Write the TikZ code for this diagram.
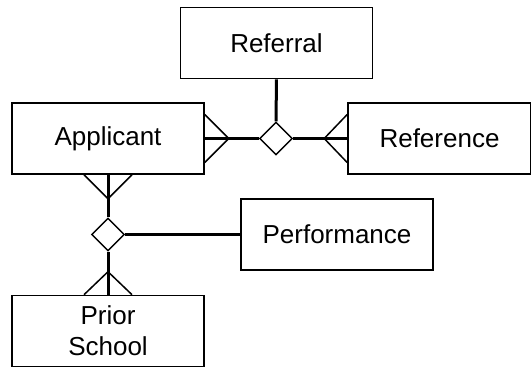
\documentclass[tikz,border=0pt]{standalone}
\usepackage{fontspec}
\setmainfont{Liberation Sans}
\usetikzlibrary{shapes.geometric}
\begin{document}
\begin{tikzpicture}[x=1pt,y=-1pt,
  ent/.style={draw, line width=1.6pt, fill=white, minimum width=192pt, minimum height=71pt, inner sep=0pt, font=\fontsize{26}{31}\selectfont, align=center},
  rel/.style={draw, diamond, line width=1.4pt, fill=white, minimum width=33pt, minimum height=33pt, inner sep=0pt},
  conn/.style={line width=3pt},
  prong/.style={line width=1.5pt}]
\useasboundingbox (0,0) rectangle (531,368);
\node[ent] (referral) at (276.5,43) {Referral};
\node[ent] (applicant) at (108,138.5) {Applicant};
\node[ent, minimum width=183pt] (reference) at (439.5,138.5) {Reference};
\node[ent] (performance) at (337,234.5) {Performance};
\node[ent] (prior) at (108,331) {Prior\\School};
\node[rel] (d1) at (276,138.5) {};
\node[rel] (d2) at (108,234.5) {};
% connectors
\draw[conn] (referral.south) -- (d1.north);
\draw[conn] (applicant.east) -- (d1.west);
\draw[conn] (reference.west) -- (d1.east);
\draw[conn] (applicant.south) -- (d2.north);
\draw[conn] (d2.south) -- (prior.north);
\draw[conn] (d2.east) -- (performance.west);
% crow's feet
\coordinate (a1) at ([xshift=24pt]applicant.east);
\draw[prong] ([yshift=-24pt]applicant.east) -- (a1) -- ([yshift=24pt]applicant.east);
\coordinate (r1) at ([xshift=-23pt]reference.west);
\draw[prong] ([yshift=-24pt]reference.west) -- (r1) -- ([yshift=24pt]reference.west);
\coordinate (a2) at ([yshift=-24pt]applicant.south);
\draw[prong] ([xshift=-24pt]applicant.south) -- (a2) -- ([xshift=24pt]applicant.south);
\coordinate (p1) at ([yshift=23pt]prior.north);
\draw[prong] ([xshift=-24pt]prior.north) -- (p1) -- ([xshift=24pt]prior.north);
\end{tikzpicture}
\end{document}
